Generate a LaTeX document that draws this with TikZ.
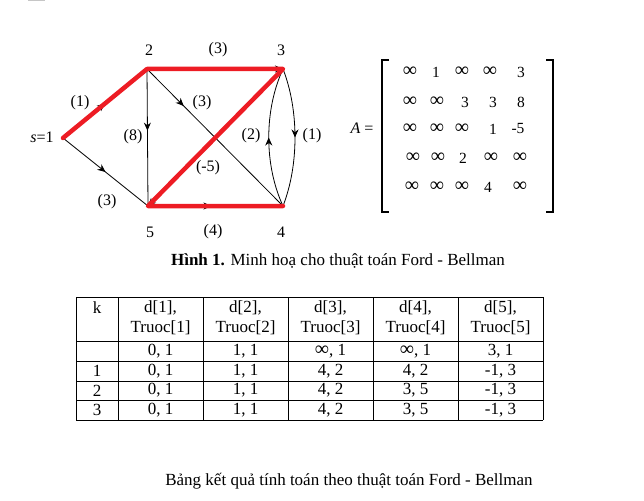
\documentclass[tikz,border=0pt]{standalone}
\usepackage{fontspec}
\setmainfont{Liberation Serif}
\usetikzlibrary{arrows.meta,decorations.markings}
\definecolor{redpath}{RGB}{237,28,36}
\newcommand{\infsym}{{\fontsize{20}{20}\selectfont ∞}}
\begin{document}
\begin{tikzpicture}[x=1pt,y=-1pt,
  vtx/.style={circle,fill=black,inner sep=0pt,minimum size=2.5pt},
  edge/.style={line width=0.8pt,black},
  hot/.style={line width=4.5pt,redpath,line cap=round,line join=round},
  tip/.style={-{Stealth[length=8pt,width=7pt]}},
  midarrow/.style={postaction={decorate},decoration={markings,mark=at position #1 with {\arrow{Stealth[length=8pt,width=7pt]}}}},
  lbl/.style={inner sep=0pt,font=\fontsize{16}{18}\selectfont},
  mx/.style={inner sep=0pt,font=\fontsize{15.5}{17}\selectfont},
  tb/.style={inner sep=0pt,font=\fontsize{17}{20}\selectfont},
  grid/.style={line width=0.8pt,black},
  brk/.style={line width=1.5pt,black}
]
\useasboundingbox (0,0) rectangle (644,500);
\fill[gray!45] (28,0) rectangle (45,1.5);

% vertices
\node[vtx] (v1) at (63,138) {};
\node[vtx] (v2) at (147,69) {};
\node[vtx] (v3) at (283,69) {};
\node[vtx] (v4) at (283,206) {};
\node[vtx] (v5) at (148,206) {};

% black edges
\draw[edge,midarrow=0.5] (v1.center) -- (v2.center);
\draw[edge,midarrow=0.5] (v1.center) -- (v5.center);
\draw[edge,midarrow=0.45] (v2.center) -- (v5.center);
\draw[edge,midarrow=0.27] (v2.center) -- (v4.center);
\draw[edge,midarrow=0.47] (v5.center) -- (v4.center);
\draw[edge,tip] (v2.center) -- (v3.center);
\draw[edge,tip] (v3.center) -- (v5.center);
\draw[edge,midarrow=0.5] (v3.center) .. controls (299,110) and (299,165) .. (v4.center);
\draw[edge,midarrow=0.5] (v4.center) .. controls (264,165) and (264,110) .. (v3.center);

% red path
\draw[hot] (v1.center) -- (v2.center) -- (v3.center) -- (v5.center) -- (v4.center);

% graph labels
\node[lbl] (l2) at (149,50) {2};
\node[lbl] (l3) at (281,50) {3};
\node[lbl] (w23) at (218,50) {(3)};
\node[lbl] (w12) at (80,103) {(1)};
\node[lbl] (ls) at (42,137) {\textit{s}=1};
\node[lbl] (w25) at (133,137) {(8)};
\node[lbl] (w24) at (202,103) {(3)};
\node[lbl] (w43) at (251,136) {(2)};
\node[lbl] (w34) at (312,136) {(1)};
\node[lbl] (w35) at (208,168) {(-5)};
\node[lbl] (w15) at (107,202) {(3)};
\node[lbl] (l5) at (150,232) {5};
\node[lbl] (w54) at (213,232) {(4)};
\node[lbl] (l4) at (281,232) {4};

% matrix
\node[lbl] (mA) at (362,128) {\textit{A} =};
\draw[brk] (389,60) -- (382,60) -- (382,212) -- (389,212);
\draw[brk] (546,60) -- (553,60) -- (553,212) -- (546,212);
\node[mx] (m11) at (410,72) {\infsym};
\node[mx] (m12) at (436,72) {1};
\node[mx] (m13) at (462,72) {\infsym};
\node[mx] (m14) at (490,72) {\infsym};
\node[mx] (m15) at (521,72) {3};
\node[mx] (m21) at (410,102) {\infsym};
\node[mx] (m22) at (437,102) {\infsym};
\node[mx] (m23) at (465,102) {3};
\node[mx] (m24) at (493,102) {3};
\node[mx] (m25) at (521,102) {8};
\node[mx] (m31) at (410,129) {\infsym};
\node[mx] (m32) at (437,129) {\infsym};
\node[mx] (m33) at (462,129) {\infsym};
\node[mx] (m34) at (493,129) {1};
\node[mx] (m35) at (518,129) {-5};
\node[mx] (m41) at (413,158) {\infsym};
\node[mx] (m42) at (438,158) {\infsym};
\node[mx] (m43) at (463,158) {2};
\node[mx] (m44) at (491,158) {\infsym};
\node[mx] (m45) at (520,158) {\infsym};
\node[mx] (m51) at (412,187) {\infsym};
\node[mx] (m52) at (437,187) {\infsym};
\node[mx] (m53) at (462,187) {\infsym};
\node[mx] (m54) at (488,187) {4};
\node[mx] (m55) at (520,187) {\infsym};

% caption 1
\node[tb] (cap1) at (338,261) {\textbf{Hình 1.} Minh hoạ cho thuật toán Ford - Bellman};

% table grid
\foreach \yy in {297,341,361,381,400.5,420} \draw[grid] (76,\yy) -- (543,\yy);
\foreach \xx in {76,118,203,288,373,458,543} \draw[grid] (\xx,297) -- (\xx,420);

\node[tb] (hk) at (97,308) {k};
\foreach \i/\xx in {1/160.5,2/245.5,3/330.5,4/415.5,5/500.5} {
  \node[tb] (hd\i) at (\xx,308) {d[\i],};
  \node[tb] (ht\i) at (\xx,328) {Truoc[\i]};
}
\node[tb] (r0c1) at (160.5,351) {0, 1};
\node[tb] (r0c2) at (245.5,351) {1, 1};
\node[tb] (r0c3) at (330.5,351) {\infsym, 1};
\node[tb] (r0c4) at (415.5,351) {\infsym, 1};
\node[tb] (r0c5) at (500.5,351) {3, 1};

\node[tb] (r1k) at (97,371) {1};
\node[tb] (r1c1) at (160.5,371) {0, 1};
\node[tb] (r1c2) at (245.5,371) {1, 1};
\node[tb] (r1c3) at (330.5,371) {4, 2};
\node[tb] (r1c4) at (415.5,371) {4, 2};
\node[tb] (r1c5) at (500.5,371) {-1, 3};

\node[tb] (r2k) at (97,390.5) {2};
\node[tb] (r2c1) at (160.5,390.5) {0, 1};
\node[tb] (r2c2) at (245.5,390.5) {1, 1};
\node[tb] (r2c3) at (330.5,390.5) {4, 2};
\node[tb] (r2c4) at (415.5,390.5) {3, 5};
\node[tb] (r2c5) at (500.5,390.5) {-1, 3};

\node[tb] (r3k) at (97,410) {3};
\node[tb] (r3c1) at (160.5,410) {0, 1};
\node[tb] (r3c2) at (245.5,410) {1, 1};
\node[tb] (r3c3) at (330.5,410) {4, 2};
\node[tb] (r3c4) at (415.5,410) {3, 5};
\node[tb] (r3c5) at (500.5,410) {-1, 3};

% caption 2
\node[tb] (cap2) at (349,481) {Bảng kết quả tính toán theo thuật toán Ford - Bellman};
\end{tikzpicture}
\end{document}
